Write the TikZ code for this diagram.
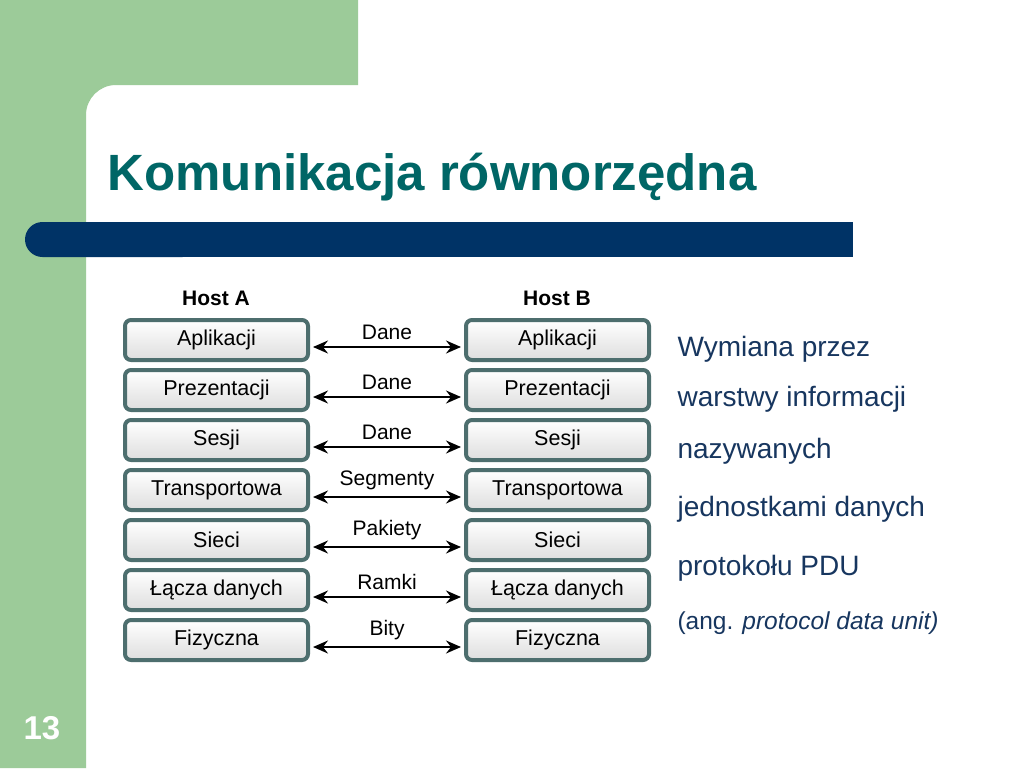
\documentclass[tikz,border=0pt]{standalone}
\usepackage{fontspec}
\setmainfont{Liberation Sans}
\usepackage{tikz}
\usetikzlibrary{arrows.meta, positioning, calc}

\definecolor{bggreen}{HTML}{9CCB99}
\definecolor{barnavy}{HTML}{003366}
\definecolor{titleteal}{HTML}{006666}
\definecolor{textnavy}{HTML}{17365F}
\definecolor{boxedge}{HTML}{4D6E6E}

\tikzset{
  layerbox/.style={draw=boxedge, line width=4pt, rounded corners=6pt,
    top color=white, bottom color=black!13,
    minimum width=183pt, minimum height=40pt, inner sep=0pt,
    font=\fontsize{21.5}{24}\selectfont},
  hostlbl/.style={font=\fontsize{21}{24}\selectfont\bfseries},
  pdu/.style={line width=1.8pt, {Stealth[length=15pt,width=13pt,inset=5pt]}-{Stealth[length=15pt,width=13pt,inset=5pt]}},
  pdulbl/.style={font=\fontsize{21}{24}\selectfont, above=3pt},
  note/.style={anchor=base west, text=textnavy, font=\fontsize{28}{32}\selectfont}
}

\begin{document}
\begin{tikzpicture}[x=1pt, y=-1pt]
  \useasboundingbox (0,0) rectangle (1024,768);
  % tlo slajdu
  \fill[white] (0,0) rectangle (1024,768);
  \fill[bggreen] (0,0) -- (358,0) -- (358,85) [rounded corners=30pt] -- (86,85) [sharp corners] -- (86,768) -- (0,768) -- cycle;
  \fill[barnavy, rounded corners=17.5pt] (25,222) rectangle (200,257);
  \fill[barnavy] (100,222) rectangle (853,257);
  \node[anchor=base west, text=titleteal, font=\fontsize{51}{56}\selectfont\bfseries] (title) at (104,190) {Komunikacja równorzędna};
  \node[text=white, font=\fontsize{33}{36}\selectfont\bfseries] (pagenum) at (42,728) {13};

  % warstwy obu hostow
  \node[hostlbl] (hosta) at (216,298) {Host A};
  \node[hostlbl] (hostb) at (557,298) {Host B};
  \foreach \name/\pdu [count=\i] in {Aplikacji/Dane, Prezentacji/Dane, Sesji/Dane,
      Transportowa/Segmenty, Sieci/Pakiety, Łącza danych/Ramki, Fizyczna/Bity} {
    \node[layerbox] (a\i) at (216.5, 290+50*\i) {\name};
    \node[layerbox] (b\i) at (557.5, 290+50*\i) {\name};
    \draw[pdu] ([xshift=3pt, yshift=-7pt]a\i.east) -- ([xshift=-3pt, yshift=-7pt]b\i.west)
      node[midway, pdulbl] {\pdu};
  }

  % opis po prawej
  \node[note] (n1) at (674,356) {Wymiana przez};
  \node[note] (n2) at (674,406) {warstwy informacji};
  \node[note] (n3) at (674,458) {nazywanych};
  \node[note] (n4) at (674,516) {jednostkami danych};
  \node[note] (n5) at (674,575) {protokołu PDU};
  \node[note, font=\fontsize{24.5}{28}\selectfont] (n6) at (674,629) {(ang. \textit{protocol data unit)}};
\end{tikzpicture}
\end{document}
